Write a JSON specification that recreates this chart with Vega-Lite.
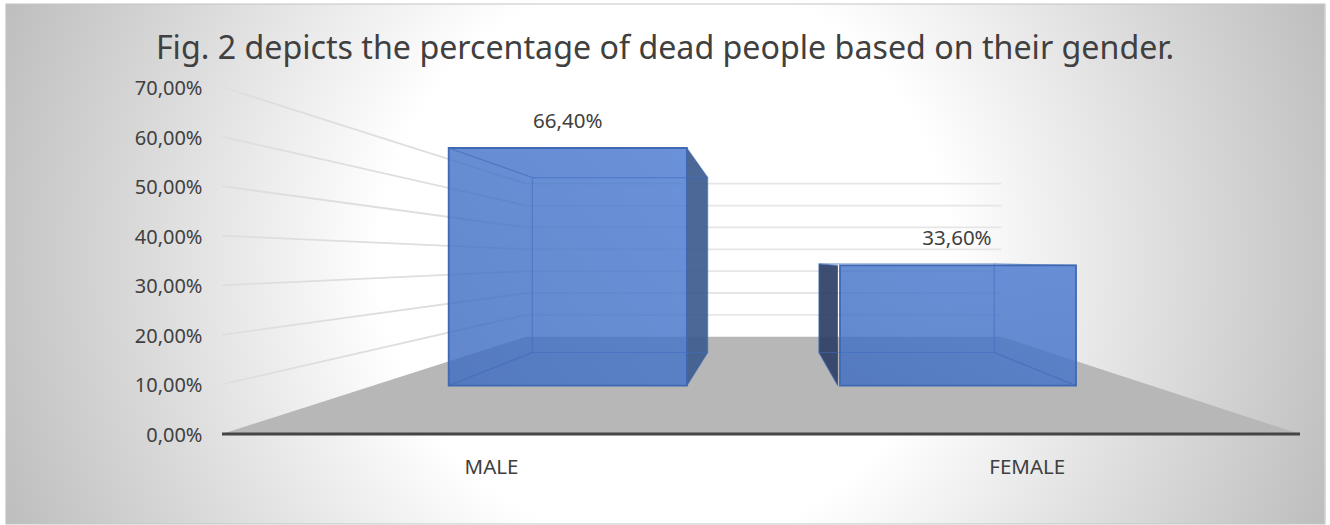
{
  "$schema": "https://vega.github.io/schema/vega-lite/v6.json",
  "width": 1330,
  "height": 525,
  "padding": 0,
  "autosize": {"type": "none"},
  "background": "#ffffff",
  "config": {"view": {"stroke": null}},
  "title": {
    "text": "Fig. 2 depicts the percentage of dead people based on their gender.",
    "anchor": "middle",
    "offset": -66,
    "font": "Noto Sans",
    "fontSize": 32.2,
    "fontWeight": "normal",
    "color": "#404040"
  },
  "params": [
    {"name": "vx", "value": 1.009},
    {"name": "hy", "value": 35.1},
    {"name": "sf", "value": 0.722},
    {"name": "sb", "value": 0.5316},
    {"name": "sw", "value": 0.441},
    {"name": "hw", "value": 0.306}
  ],
  "datasets": {
    "bars": [
      {"gender": "MALE", "slot": 0, "value": 66.4},
      {"gender": "FEMALE", "slot": 1, "value": 33.6}
    ],
    "ticks": [
      {"tick": 0}, {"tick": 10}, {"tick": 20}, {"tick": 30},
      {"tick": 40}, {"tick": 50}, {"tick": 60}, {"tick": 70}
    ]
  },
  "resolve": {"axis": {"y": "independent"}},
  "layer": [
    {
      "description": "Chart area backdrop: a square box so the radial gradient stays circular, clipped to the view",
      "data": {"values": [{"panel": "backdrop"}]},
      "transform": [
        {"calculate": "-0.4026", "as": "left"},
        {"calculate": "2.0464", "as": "right"},
        {"calculate": "168.25", "as": "top"},
        {"calculate": "-98.04", "as": "bottom"}
      ],
      "mark": {
        "type": "rect",
        "clip": true,
        "fill": {
          "gradient": "radial",
          "x1": 0.5, "y1": 0.5, "r1": 0,
          "x2": 0.5, "y2": 0.5, "r2": 0.54,
          "stops": [
            {"offset": 0, "color": "#ffffff"},
            {"offset": 0.4, "color": "#ffffff"},
            {"offset": 1, "color": "#bdbdbd"}
          ]
        }
      },
      "encoding": {
        "x": {"field": "left", "type": "quantitative", "axis": null, "scale": {"domain": [-0.41187, 2.05566], "nice": false, "zero": false}},
        "x2": {"field": "right"},
        "y": {"field": "top", "type": "quantitative", "axis": null, "scale": {"domain": [-18.358, 87.553], "nice": false, "zero": false}},
        "y2": {"field": "bottom"}
      }
    },
    {
      "description": "White margin around the chart area",
      "data": {"values": [{"panel": "margin"}]},
      "transform": [
        {"calculate": "-0.41187", "as": "left"},
        {"calculate": "2.0566", "as": "right"},
        {"calculate": "87.955", "as": "top"},
        {"calculate": "-19.37", "as": "bottom"}
      ],
      "mark": {"type": "rect", "fillOpacity": 0, "stroke": "#ffffff", "strokeWidth": 12, "clip": true},
      "encoding": {
        "x": {"field": "left", "type": "quantitative", "axis": null},
        "x2": {"field": "right"},
        "y": {"field": "top", "type": "quantitative", "axis": null},
        "y2": {"field": "bottom"}
      }
    },
    {
      "description": "Chart area border",
      "data": {"values": [{"panel": "border"}]},
      "transform": [
        {"calculate": "-0.4007", "as": "left"},
        {"calculate": "2.0464", "as": "right"},
        {"calculate": "86.75", "as": "top"},
        {"calculate": "-18.16", "as": "bottom"}
      ],
      "mark": {"type": "rect", "fillOpacity": 0, "stroke": "#c4c4c4", "strokeWidth": 1.2},
      "encoding": {
        "x": {"field": "left", "type": "quantitative", "axis": null},
        "x2": {"field": "right"},
        "y": {"field": "top", "type": "quantitative", "axis": null},
        "y2": {"field": "bottom"}
      }
    },
    {
      "description": "Floor of the 3D box, seen in perspective",
      "data": {"name": "ticks"},
      "transform": [
        {"filter": "datum.tick === 0"},
        {"calculate": "[[0, 1], [0, sw], [2, sw], [2, 1]]", "as": "corner"},
        {"flatten": ["corner"]},
        {"calculate": "vx + (datum.corner[0] - vx) * datum.corner[1]", "as": "px"},
        {"calculate": "hy + (0 - hy) * datum.corner[1]", "as": "py"}
      ],
      "mark": {"type": "area", "color": "#b7b7b7"},
      "encoding": {
        "x": {"field": "px", "type": "quantitative", "axis": null},
        "y": {"field": "py", "type": "quantitative", "axis": null, "stack": false},
        "y2": {"field": "tick"}
      }
    },
    {
      "description": "Gridlines running along the left wall, with the value axis",
      "data": {"name": "ticks"},
      "transform": [
        {"filter": "datum.tick > 0"},
        {"calculate": "0", "as": "px1"},
        {"calculate": "vx + (0 - vx) * sw", "as": "px2"},
        {"calculate": "hy + (datum.tick - hy) * sw", "as": "py2"}
      ],
      "mark": {"type": "rule", "color": "#dedede", "strokeWidth": 1.8},
      "encoding": {
        "x": {"field": "px1", "type": "quantitative", "axis": null},
        "x2": {"field": "px2"},
        "y": {
          "field": "tick",
          "type": "quantitative",
          "axis": {
            "values": [0, 10, 20, 30, 40, 50, 60, 70],
            "title": null,
            "domain": false,
            "ticks": false,
            "grid": false,
            "zindex": 1,
            "offset": -202,
            "labelPadding": 0,
            "labelOffset": 1.5,
            "labelFont": "Noto Sans",
            "labelFontSize": 20,
            "labelColor": "#404040",
            "labelExpr": "replace(format(datum.value, '.2f'), '.', ',') + '%'"
          }
        },
        "y2": {"field": "py2"}
      }
    },
    {
      "description": "Gridlines across the back wall",
      "data": {"name": "ticks"},
      "transform": [
        {"filter": "datum.tick > 0"},
        {"calculate": "vx + (0 - vx) * sw", "as": "px1"},
        {"calculate": "vx + (2 - vx) * sw", "as": "px2"},
        {"calculate": "hy + (datum.tick - hy) * sw", "as": "py"}
      ],
      "mark": {"type": "rule", "color": "#e6e6e6", "strokeWidth": 1.8},
      "encoding": {
        "x": {"field": "px1", "type": "quantitative", "axis": null},
        "x2": {"field": "px2"},
        "y": {"field": "py", "type": "quantitative", "axis": null}
      }
    },
    {
      "description": "Outer shaded side of each bar",
      "data": {"name": "bars"},
      "transform": [
        {"calculate": "datum.slot + 0.5 + (datum.slot === 0 ? hw : -hw)", "as": "edge"},
        {"calculate": "[sf, sb]", "as": "s"},
        {"flatten": ["s"]},
        {"calculate": "vx + (datum.edge - vx) * datum.s", "as": "px"},
        {"calculate": "hy + (datum.value - hy) * datum.s", "as": "top"},
        {"calculate": "hy + (0 - hy) * datum.s", "as": "bottom"}
      ],
      "mark": {"type": "area", "opacity": 0.92},
      "encoding": {
        "x": {"field": "px", "type": "quantitative", "axis": null},
        "y": {"field": "top", "type": "quantitative", "axis": null, "stack": false},
        "y2": {"field": "bottom"},
        "color": {
          "field": "gender",
          "type": "nominal",
          "legend": null,
          "scale": {"domain": ["MALE", "FEMALE"], "range": ["#3c5b8e", "#2c3f66"]}
        }
      }
    },
    {
      "description": "Translucent front face of each bar",
      "data": {"name": "bars"},
      "transform": [
        {"calculate": "vx + (datum.slot + 0.5 - hw - vx) * sf + (datum.slot === 1 ? 0.004 : 0)", "as": "px1"},
        {"calculate": "vx + (datum.slot + 0.5 + hw - vx) * sf", "as": "px2"},
        {"calculate": "hy + (datum.value - hy) * sf", "as": "top"},
        {"calculate": "hy + (0 - hy) * sf", "as": "bottom"}
      ],
      "mark": {
        "type": "rect",
        "fill": {
          "x1": 0, "y1": 1, "x2": 1, "y2": 0,
          "gradient": "linear",
          "stops": [
            {"offset": 0, "color": "#3f6cc0"},
            {"offset": 1, "color": "#4a7ad0"}
          ]
        },
        "fillOpacity": 0.82,
        "stroke": "#3f69b4",
        "strokeWidth": 1.8
      },
      "encoding": {
        "x": {"field": "px1", "type": "quantitative", "axis": null},
        "x2": {"field": "px2"},
        "y": {"field": "top", "type": "quantitative", "axis": null},
        "y2": {"field": "bottom"}
      }
    },
    {
      "description": "Rear face of each bar showing through the front",
      "data": {"name": "bars"},
      "transform": [
        {"calculate": "vx + (datum.slot + 0.5 - hw - vx) * sb", "as": "px1"},
        {"calculate": "vx + (datum.slot + 0.5 + hw - vx) * sb", "as": "px2"},
        {"calculate": "hy + (datum.value - hy) * sb", "as": "top"},
        {"calculate": "hy + (0 - hy) * sb", "as": "bottom"}
      ],
      "mark": {"type": "rect", "fillOpacity": 0, "stroke": "#3f6cc0", "strokeOpacity": 0.55, "strokeWidth": 1.2},
      "encoding": {
        "x": {"field": "px1", "type": "quantitative", "axis": null},
        "x2": {"field": "px2"},
        "y": {"field": "top", "type": "quantitative", "axis": null},
        "y2": {"field": "bottom"}
      }
    },
    {
      "description": "Depth edges joining the front and rear corners of each bar",
      "data": {"name": "bars"},
      "transform": [
        {"calculate": "[-1, 1]", "as": "side"},
        {"flatten": ["side"]},
        {"calculate": "[datum.value, 0]", "as": "level"},
        {"flatten": ["level"]},
        {"calculate": "datum.slot + 0.5 + datum.side * hw", "as": "edge"},
        {"calculate": "vx + (datum.edge - vx) * sf", "as": "px1"},
        {"calculate": "vx + (datum.edge - vx) * sb", "as": "px2"},
        {"calculate": "hy + (datum.level - hy) * sf", "as": "py1"},
        {"calculate": "hy + (datum.level - hy) * sb", "as": "py2"}
      ],
      "mark": {"type": "rule", "color": "#3f69b4", "strokeOpacity": 0.6, "strokeWidth": 1.2},
      "encoding": {
        "x": {"field": "px1", "type": "quantitative", "axis": null},
        "x2": {"field": "px2"},
        "y": {"field": "py1", "type": "quantitative", "axis": null},
        "y2": {"field": "py2"}
      }
    },
    {
      "description": "Baseline at zero",
      "data": {"name": "ticks"},
      "transform": [
        {"filter": "datum.tick === 0"},
        {"calculate": "0", "as": "px1"},
        {"calculate": "2", "as": "px2"}
      ],
      "mark": {"type": "rule", "color": "#454545", "strokeWidth": 3},
      "encoding": {
        "x": {"field": "px1", "type": "quantitative", "axis": null},
        "x2": {"field": "px2"},
        "y": {"field": "tick", "type": "quantitative", "axis": null}
      }
    },
    {
      "description": "Value labels above the bars",
      "data": {"name": "bars"},
      "transform": [
        {"calculate": "vx + (datum.slot + 0.5 - vx) * sf", "as": "px"},
        {"calculate": "hy + (datum.value - hy) * sf", "as": "top"},
        {"calculate": "replace(format(datum.value, '.2f'), '.', ',') + '%'", "as": "label"}
      ],
      "mark": {"type": "text", "dy": -26, "font": "Noto Sans", "fontSize": 20.5, "color": "#404040"},
      "encoding": {
        "x": {"field": "px", "type": "quantitative", "axis": null},
        "y": {"field": "top", "type": "quantitative", "axis": null},
        "text": {"field": "label"}
      }
    },
    {
      "description": "Category labels under the baseline",
      "data": {"name": "bars"},
      "transform": [
        {"calculate": "datum.slot + 0.5 - datum.slot * 0.006", "as": "px"},
        {"calculate": "-6.86", "as": "py"}
      ],
      "mark": {"type": "text", "font": "Noto Sans", "fontSize": 20.5, "color": "#404040"},
      "encoding": {
        "x": {"field": "px", "type": "quantitative", "axis": null},
        "y": {"field": "py", "type": "quantitative", "axis": null},
        "text": {"field": "gender"}
      }
    }
  ]
}
